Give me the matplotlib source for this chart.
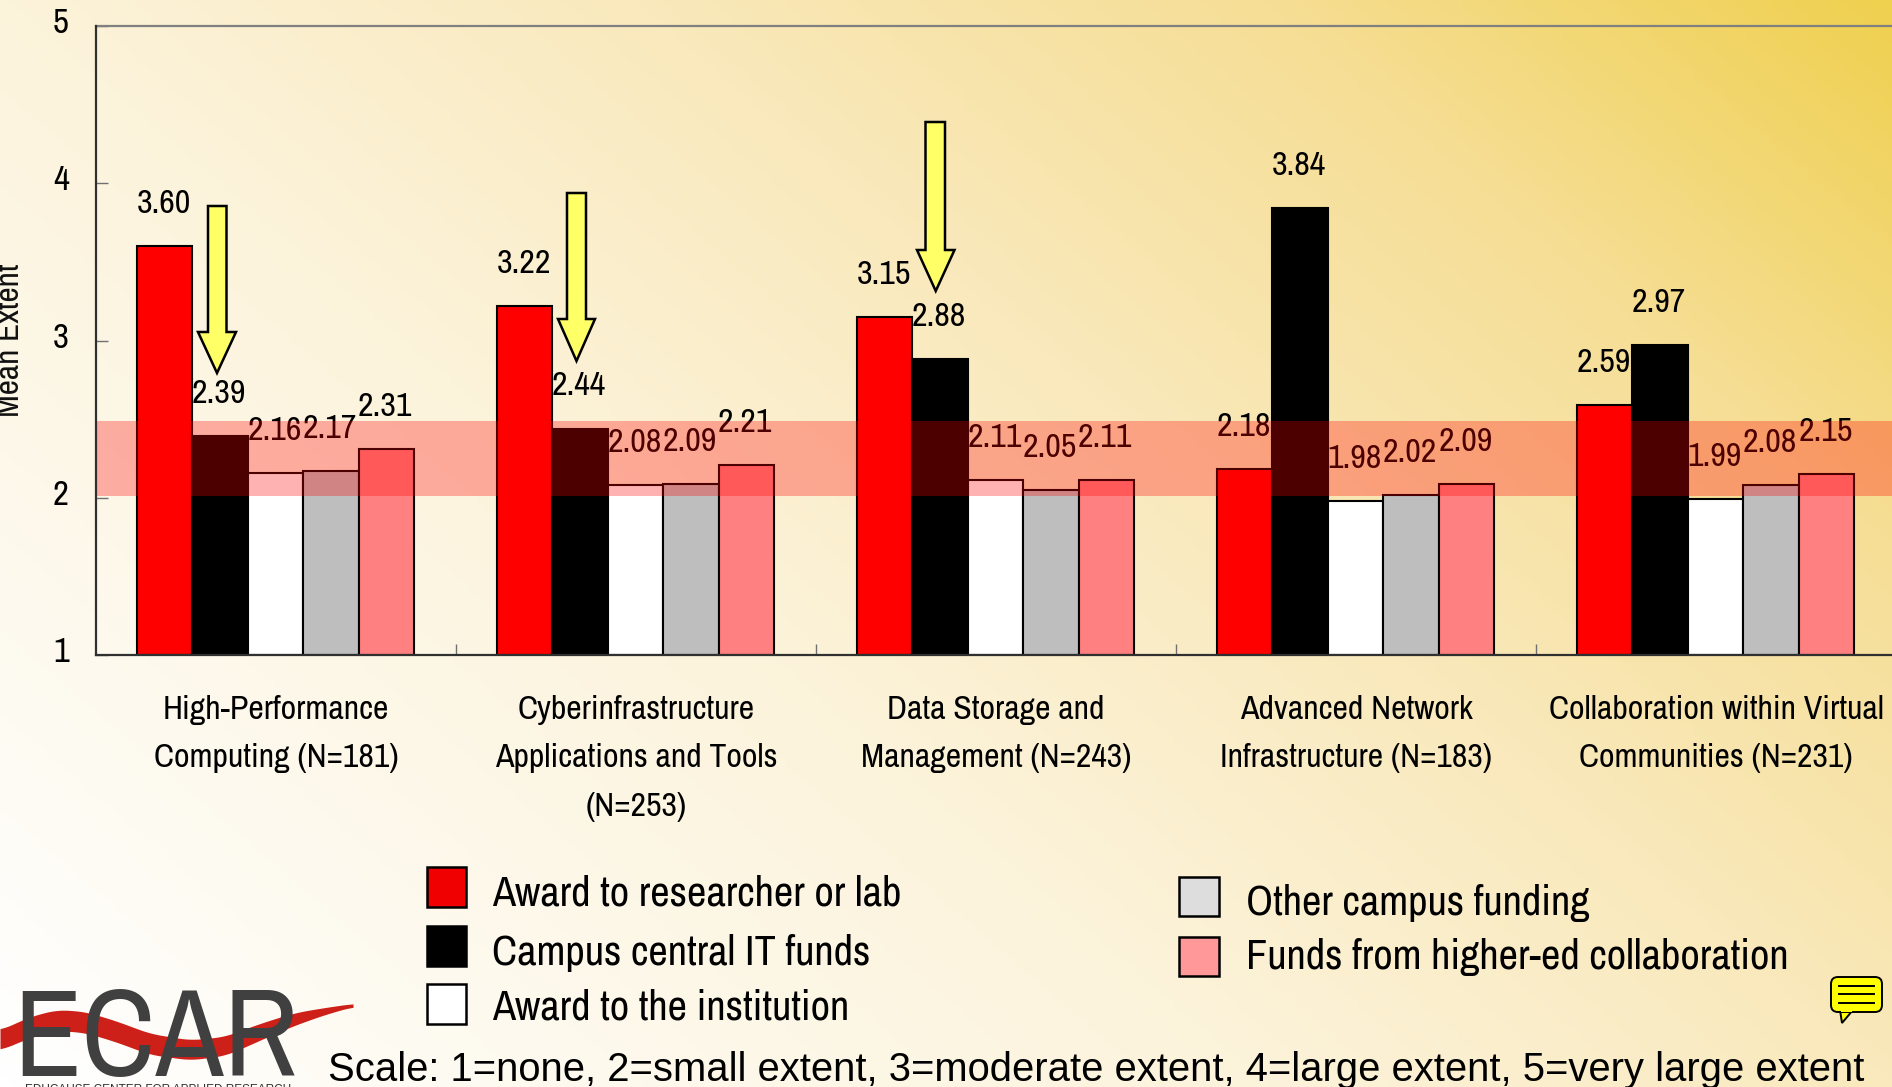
import numpy as np
import matplotlib
matplotlib.use("Agg")
import matplotlib.pyplot as plt
from matplotlib.colors import LinearSegmentedColormap
from matplotlib.patches import Polygon, Rectangle, FancyBboxPatch
from matplotlib.transforms import ScaledTranslation

NARROW = ['Archivo Narrow', 'Liberation Sans', 'DejaVu Sans']
plt.rcParams['font.family'] = NARROW

categories = ['High-Performance\nComputing (N=181)',
              'Cyberinfrastructure\nApplications and Tools\n(N=253)',
              'Data Storage and\nManagement (N=243)',
              'Advanced Network\nInfrastructure (N=183)',
              'Collaboration within Virtual\nCommunities (N=231)']
series_names = ['Award to researcher or lab', 'Campus central IT funds', 'Award to the institution',
                'Other campus funding', 'Funds from higher-ed collaboration']
award_researcher = [3.60, 3.22, 3.15, 2.18, 2.59]
campus_it = [2.39, 2.44, 2.88, 3.84, 2.97]
award_institution = [2.16, 2.08, 2.11, 1.98, 1.99]
other_campus = [2.17, 2.09, 2.05, 2.02, 2.08]
higher_ed = [2.31, 2.21, 2.11, 2.09, 2.15]
series = [award_researcher, campus_it, award_institution, other_campus, higher_ed]
bar_colors = ['#FF0000', '#000000', '#FFFFFF', '#BEBEBE', '#FF8080']
y_ticks = [1, 2, 3, 4, 5]
band_low, band_high = 2.01, 2.485

W, H = 1892, 1087
fig = plt.figure(figsize=(W / 100, H / 100), dpi=100)

# background gradient
bg = fig.add_axes([0, 0, 1, 1], zorder=0)
bg.axis('off')
xx, yy = np.meshgrid(np.linspace(0, 1, 400), np.linspace(0, 1, 300))
t = 0.6 * xx + 0.4 * (1 - yy)
cmap = LinearSegmentedColormap.from_list('bg', [(0, '#FFFFFF'), (0.4, '#FCF3DB'), (0.6, '#F9E9BC'),
                                                (0.8, '#F6DE96'), (1, '#EFD04F')])
bg.imshow(t, cmap=cmap, vmin=0, vmax=1, aspect='auto', extent=[0, 1, 0, 1], origin='upper')

# main axes
ax = fig.add_axes([96 / W, 1 - 655 / H, (W - 96) / W, 629 / H], zorder=1)
ax.patch.set_alpha(0)
ax.set_xlim(0, (W - 96) / 360)
ax.set_ylim(1, 5)
bw = 0.154
for i, (vals, c) in enumerate(zip(series, bar_colors)):
    xs = np.arange(5) + 0.4985 + (i - 2) * bw
    ax.bar(xs, np.array(vals) - 1, bw, bottom=1, color=c, edgecolor='black', linewidth=1.5, zorder=2,
           label=series_names[i])
    for x, v in zip(xs, vals):
        ax.annotate(f'{v:.2f}', (x, v), xytext=(-0.7, 30.3), textcoords='offset points', ha='center',
                    va='center', fontsize=24.5, color='black', zorder=3)
ax.axhspan(band_low, band_high, color='#FF0000', alpha=0.3, lw=0, zorder=5)

for s in ['left', 'bottom']:
    ax.spines[s].set_color('#303030')
    ax.spines[s].set_linewidth(1.6)
    ax.spines[s].set_zorder(6)
ax.spines['top'].set_color('#808080')
ax.spines['top'].set_linewidth(1.6)
ax.spines['right'].set_visible(False)

ax.set_yticks(y_ticks)
ax.tick_params(axis='y', direction='in', length=8.6, width=1, color='#707070', labelsize=25, pad=19.5)
shift = ScaledTranslation(0, 6 / 100, fig.dpi_scale_trans)
for lab in ax.get_yticklabels():
    lab.set_transform(lab.get_transform() + shift)
ax.set_xticks(np.arange(1, 5))
ax.set_xticklabels([])
ax.tick_params(axis='x', which='major', direction='in', length=8, width=1, color='#707070')
ax.set_xticks(np.arange(5) + 0.5, minor=True)
ax.set_xticklabels(categories, minor=True, fontsize=24.4, linespacing=1.77)
ax.tick_params(axis='x', which='minor', length=0, pad=28.5)

# overlay in reference pixels
ov = fig.add_axes([0, 0, 1, 1], zorder=2)
ov.set_xlim(0, W)
ov.set_ylim(H, 0)
ov.axis('off')

ov.text(10, 340, 'Mean Extent', rotation=90, ha='center', va='center', fontsize=24, color='#111111')


def arrow(x0, x1, hx0, hx1, top, hy, tip):
    tx = (hx0 + hx1) / 2
    ov.add_patch(Polygon([(x0, top), (x1, top), (x1, hy), (hx1, hy), (tx, tip), (hx0, hy), (x0, hy)],
                         closed=True, fc='#FFFF66', ec='black', lw=1.8))


arrow(208, 226.5, 198, 236, 206, 332, 373)
arrow(567, 586, 558, 595, 193, 319, 361)
arrow(925.5, 945, 917, 954.5, 122, 250, 291)

# legend
leg = [(426.5, 867, 39.5, 40, '#F00000', 492, 893, 0),
       (426.5, 926, 39.5, 40, '#000000', 492, 953, 1),
       (426.5, 984, 39.5, 40, '#FFFFFF', 492, 1008, 2),
       (1179, 877, 40, 39, '#DDDDDD', 1246, 903, 3),
       (1179, 937, 40, 39, '#FF9999', 1246, 957, 4)]
for x, y, w, h, c, tx, ty, idx in leg:
    ov.add_patch(Rectangle((x, y), w, h, fc=c, ec='black', lw=1.8))
    ov.text(tx, ty, series_names[idx], fontsize=30.5, va='center', ha='left', color='black')

ov.text(328, 1070, 'Scale: 1=none, 2=small extent, 3=moderate extent, 4=large extent, 5=very large extent',
        fontsize=28.8, family='Liberation Sans', va='center', ha='left', color='black')

# speech bubble
ov.add_patch(Polygon([(1840, 1010), (1842, 1023), (1853, 1010)], closed=True, fc='#FFFF00', ec='black', lw=1.4))
ov.add_patch(FancyBboxPatch((1836, 982), 41, 25, boxstyle='round,pad=5,rounding_size=7',
                            fc='#FFFF00', ec='black', lw=1.4))
ov.add_patch(Rectangle((1841, 1007), 11, 5, fc='#FFFF00', ec='none'))
for y in (986, 994, 1003):
    ov.plot([1839, 1874], [y, y], color='black', lw=1.4)

# logo
ov.text(156, 1042, 'ECAR', fontsize=90, ha='center', va='center', color='#404040')
cx = np.array([0, 30, 57, 85, 115, 150, 190, 225, 247, 275, 298, 325, 353])
cy = np.array([1040, 1027, 1020, 1022, 1031, 1044, 1050, 1046, 1037, 1026, 1018, 1011, 1005])
th = np.array([18, 19, 19, 19, 19, 19, 18, 17, 16, 13, 10, 5, 1])
gx = np.linspace(0, 353, 300)
k = np.ones(21) / 21
pad = lambda a: np.convolve(np.pad(a, 10, mode='edge'), k, mode='valid')
gy, gt = pad(np.interp(gx, cx, cy)), pad(np.interp(gx, cx, th))
ov.fill_between(gx, gy - gt / 2 - 1, gy + gt / 2 + 1, color='#CC2018', lw=0)
ov.text(158, 1084, 'EDUCAUSE CENTER FOR APPLIED RESEARCH', fontsize=8.5, family='Liberation Sans',
        ha='center', va='top', color='#303030')

fig.savefig('out.png', dpi=100)
